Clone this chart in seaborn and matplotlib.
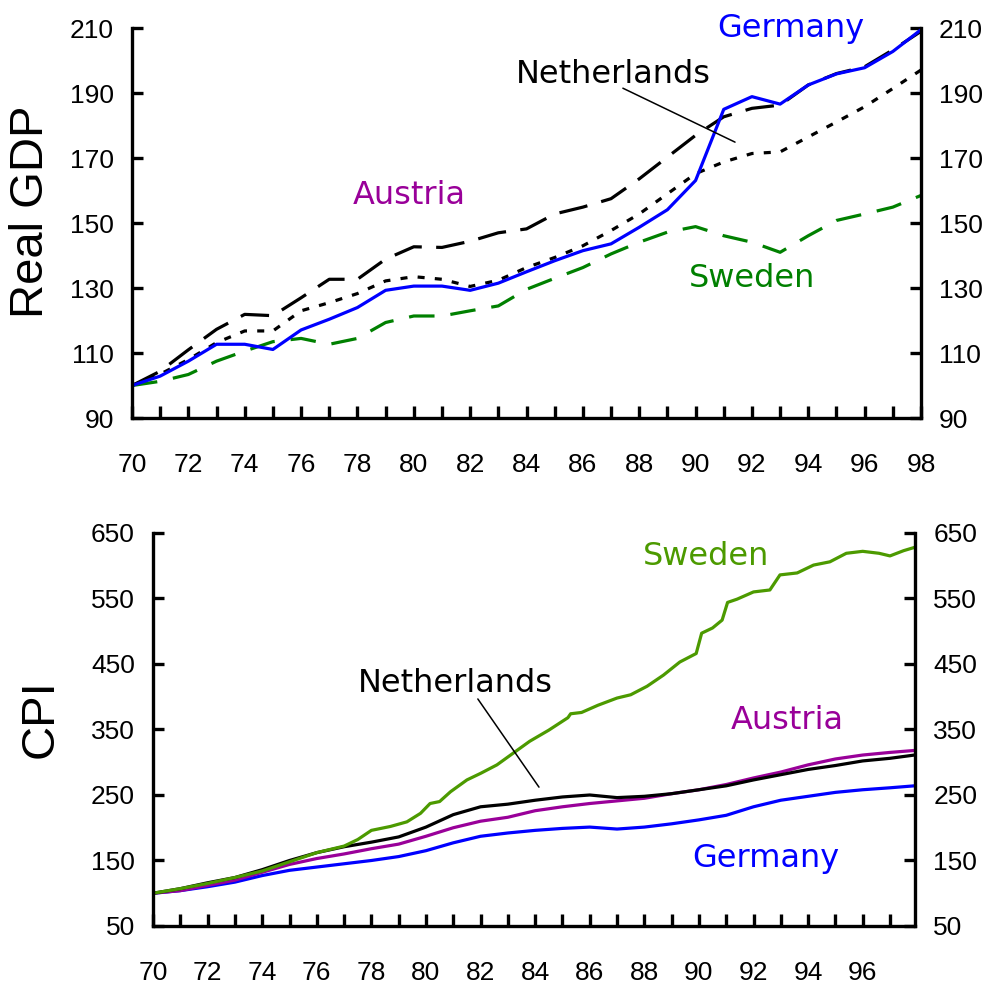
import matplotlib
matplotlib.use("Agg")
import numpy as np
import pandas as pd
import matplotlib.pyplot as plt
import seaborn as sns

### ------------------------------------------------------------------ ###
### Data (index 1970 = 100)

gdp_years = list(range(70, 99))
gdp_austria = [100, 104.4, 111, 117.3, 121.9, 121.5, 127, 132.7, 132.7, 138.9,
               142.7, 142.5, 144.4, 147, 148.2, 152.8, 154.9, 157.5, 163.6, 170.3,
               177, 182.7, 185.3, 186.3, 192.5, 196, 198.1, 203.3, 209]
gdp_netherlands = [100, 103.5, 108, 113.2, 116.8, 116.8, 123, 125.5, 128.3, 132.2,
                   133.5, 132.7, 130.5, 132.4, 136.3, 139.4, 143, 147.7, 152.8, 159,
                   165.2, 168.8, 171.4, 171.9, 176.5, 181.1, 185.8, 191.4, 197.1]
gdp_sweden = [100, 101.3, 103.4, 107.5, 110.6, 113.5, 114.5, 112.7, 114.5, 119.4,
              121.4, 121.4, 123, 124.5, 129.6, 133, 136.3, 140.5, 144.1, 147.2,
              148.9, 146.1, 144.1, 141, 146.1, 150.8, 152.8, 154.9, 158.5]
gdp_germany = [100, 102.9, 107.5, 112.7, 112.7, 111.1, 117.1, 120.4, 124, 129.3,
               130.6, 130.6, 129.3, 131.5, 135, 138.4, 141.5, 143.6, 148.7, 154.1,
               163.1, 185, 188.9, 186.6, 192.5, 195.9, 197.8, 202.8, 209.5]

cpi_years = list(range(70, 98)) + [97.9]
cpi_germany = [100, 104, 110, 117, 127, 135, 140, 145, 150, 156, 165, 177, 187, 192,
               196, 199, 201, 198, 201, 206, 212, 219, 232, 242, 248, 254, 258, 261, 264]
cpi_netherlands = [100, 107, 116, 124, 136, 150, 162, 171, 178, 186, 201, 220, 232, 236,
                   242, 247, 250, 246, 248, 252, 258, 264, 273, 281, 289, 295, 302, 306, 311]
cpi_austria = [100, 104, 112, 120, 132, 144, 153, 160, 168, 175, 187, 200, 210, 216,
               226, 232, 237, 241, 245, 252, 258, 266, 276, 285, 296, 305, 311, 315, 318]

sweden_years = [70, 71, 72, 73, 74, 75, 76, 77, 77.5, 78, 78.7, 79.3, 79.8, 80.15, 80.5,
                80.9, 81.5, 82, 82.6, 83.2, 83.8, 84.5, 85.2, 85.3, 85.7, 86.3, 87, 87.5,
                88.1, 88.7, 89.3, 89.9, 90.1, 90.5, 90.85, 91.05, 91.4, 92, 92.6, 92.97,
                93.6, 94.2, 94.8, 95.4, 96, 96.6, 97, 97.5, 97.9]
cpi_sweden = [100, 107, 115, 124, 134, 148, 162, 172, 182, 196, 202, 209, 222, 237, 240,
              255, 273, 283, 296, 314, 332, 349, 368, 374, 376, 387, 398, 403,
              416, 433, 453, 466, 497, 505, 517, 544, 549, 560, 563, 586,
              589, 601, 606, 619, 622, 619, 615, 623, 628]

### ------------------------------------------------------------------ ###
### Styling

sns.set_style("white")
plt.rcParams['font.family'] = ['Liberation Sans', 'DejaVu Sans']
plt.rcParams['text.color'] = 'black'

BLUE = "#0000FF"
PURPLE = "#990099"
GREEN_TOP = "#008000"
GREEN_CPI = "#4C9A00"
lw = 2.3
lab_font = dict(family="DejaVu Sans", fontsize=23)

fig = plt.figure(figsize=(9.88, 9.85), dpi=100)
ax1 = fig.add_axes([0.1336, 0.5756, 0.7986, 0.3959])
ax2 = fig.add_axes([0.1549, 0.0599, 0.7713, 0.3990])


def style_axis(ax):
    ax.spines['top'].set_visible(False)
    for s in ['left', 'right', 'bottom']:
        ax.spines[s].set_visible(True)
        ax.spines[s].set_linewidth(2.4)
        ax.spines[s].set_color("black")
    ax.tick_params(axis='y', which='both', left=True, right=True, labelleft=True,
                   labelright=True, direction='in', length=8, width=2.4,
                   labelsize=19, pad=13, color='black', labelcolor='black')
    ax.tick_params(axis='x', which='both', bottom=True, top=False, direction='in',
                   labelsize=19, pad=25, width=2.4, length=9,
                   color='black', labelcolor='black')
    ax.grid(False)
    ax.set_xlabel("")
    ax.set_ylabel("")


### Real GDP panel
sns.lineplot(x=gdp_years, y=gdp_austria, ax=ax1, color="black", linewidth=lw,
             linestyle=(0, (9, 4.5)))
sns.lineplot(x=gdp_years, y=gdp_netherlands, ax=ax1, color="black", linewidth=lw,
             linestyle=(0, (2.2, 3.2)))
sns.lineplot(x=gdp_years, y=gdp_sweden, ax=ax1, color=GREEN_TOP, linewidth=lw,
             linestyle=(0, (8, 5)))
sns.lineplot(x=gdp_years, y=gdp_germany, ax=ax1, color=BLUE, linewidth=lw)

ax1.set_xlim(70, 98)
ax1.set_ylim(90, 210)
ax1.set_yticks(range(90, 211, 20))
ax1.set_xticks(range(70, 99, 2))
ax1.set_xticks(range(71, 98, 2), minor=True)
style_axis(ax1)

ax1.text(93.39, 207.3, "Germany", color=BLUE, ha="center", va="baseline", **lab_font)
ax1.text(87.07, 193, "Netherlands", color="black", ha="center", va="baseline", **lab_font)
ax1.text(79.83, 155.8, "Austria", color=PURPLE, ha="center", va="baseline", **lab_font)
ax1.text(92.0, 130.2, "Sweden", color=GREEN_TOP, ha="center", va="baseline", **lab_font)
ax1.plot([87.42, 91.4], [191.5, 174.9], color="black", linewidth=1.1)

### CPI panel
sns.lineplot(x=cpi_years, y=cpi_germany, ax=ax2, color=BLUE, linewidth=lw)
sns.lineplot(x=cpi_years, y=cpi_austria, ax=ax2, color=PURPLE, linewidth=lw)
sns.lineplot(x=cpi_years, y=cpi_netherlands, ax=ax2, color="black", linewidth=lw)
sns.lineplot(x=sweden_years, y=cpi_sweden, ax=ax2, color=GREEN_CPI, linewidth=lw)

ax2.set_xlim(70, 97.92)
ax2.set_ylim(50, 650)
ax2.set_yticks(range(50, 651, 100))
ax2.set_xticks(range(70, 97, 2))
ax2.set_xticks(range(71, 98, 2), minor=True)
style_axis(ax2)

ax2.text(90.26, 601, "Sweden", color=GREEN_CPI, ha="center", va="baseline", **lab_font)
ax2.text(93.22, 350.8, "Austria", color=PURPLE, ha="center", va="baseline", **lab_font)
ax2.text(92.45, 140.5, "Germany", color=BLUE, ha="center", va="baseline", **lab_font)
ax2.text(81.06, 407.7, "Netherlands", color="black", ha="center", va="baseline", **lab_font)
ax2.plot([81.9, 84.14], [396.6, 262], color="black", linewidth=1.1)

fig.text(0.0314, 0.785, "Real GDP", rotation=90, ha="center", va="center",
         fontsize=34, family="Liberation Sans", color="black")
fig.text(0.0415, 0.270, "CPI", rotation=90, ha="center", va="center",
         fontsize=34, family="Liberation Sans", color="black")

fig.savefig("out.png", dpi=100, facecolor="white")
